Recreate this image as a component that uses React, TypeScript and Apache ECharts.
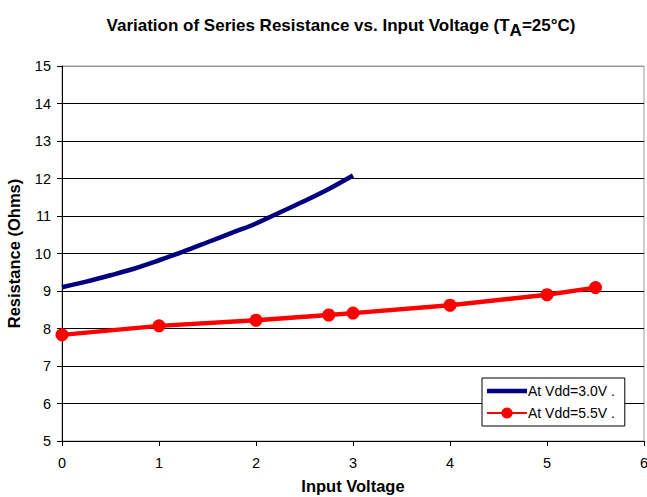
import React, { useEffect, useRef } from "react";
import * as echarts from "echarts";

const vdd30X = [0, 0.25, 0.5, 0.75, 1, 1.25, 1.5, 1.75, 2, 2.25, 2.5, 2.75, 3];
const vdd30Y = [9.1, 9.25, 9.42, 9.6, 9.82, 10.05, 10.3, 10.55, 10.8, 11.1, 11.4, 11.72, 12.08];
const vdd55X = [0, 1, 2, 2.75, 3, 4, 5, 5.5];
const vdd55Y = [7.83, 8.07, 8.22, 8.36, 8.41, 8.62, 8.9, 9.09];
const seriesNames = ["At Vdd=3.0V .", "At Vdd=5.5V ."];

const FONT = "'Liberation Sans', Arial, sans-serif";

export default function App() {
  const ref = useRef<HTMLDivElement>(null);
  useEffect(() => {
    if (!ref.current) return;
    const chart = echarts.init(ref.current, null, { renderer: "svg" });
    const splitColors = ["#000", "#000", "#000", "#000", "#000", "#000", "#000", "#000", "#000", "#000", "#999"];
    chart.setOption({
      animation: false,
      backgroundColor: "#fff",
      textStyle: { fontFamily: FONT },
      title: {
        text: "Variation of Series Resistance vs. Input Voltage (T{sub|A}=25°C)",
        left: 336,
        textAlign: "center",
        top: 6,
        textStyle: {
          fontFamily: FONT,
          fontSize: 17,
          fontWeight: "bold",
          color: "#000",
          rich: {
            sub: {
              fontFamily: FONT,
              fontSize: 17,
              fontWeight: "bold",
              color: "#000",
              padding: [11, 0, 0, 0],
            },
          },
        },
      },
      grid: {
        left: 62,
        right: 3,
        top: 66,
        bottom: 56,
        show: true,
        borderColor: "#999",
        borderWidth: 1,
        containLabel: false,
        outerBoundsMode: "none",
      },
      legend: {
        left: 482,
        top: 378,
        orient: "vertical",
        backgroundColor: "#fff",
        borderColor: "#000",
        borderWidth: 1,
        padding: [6, 10, 6, 4],
        itemGap: 8,
        itemWidth: 40,
        itemHeight: 14,
        textStyle: { fontFamily: FONT, fontSize: 14, color: "#000", padding: [0, 0, 0, -4] },
        data: [
          { name: seriesNames[0], icon: "path://M0,0 L40,0 L40,4.5 L0,4.5 Z" },
          { name: seriesNames[1] },
        ],
      },
      xAxis: {
        type: "value",
        min: 0,
        max: 6,
        interval: 1,
        name: "Input Voltage",
        nameLocation: "middle",
        nameGap: 36,
        nameTextStyle: { fontFamily: FONT, fontSize: 16.5, fontWeight: "bold", color: "#000" },
        axisLine: { show: true, lineStyle: { color: "#000", width: 1 } },
        axisTick: { show: true, length: 5, lineStyle: { color: "#000" } },
        axisLabel: { fontFamily: FONT, fontSize: 14.5, color: "#000", margin: 14 },
        splitLine: { show: false },
      },
      yAxis: {
        type: "value",
        min: 5,
        max: 15,
        interval: 1,
        name: "Resistance (Ohms)",
        nameLocation: "middle",
        nameGap: 40,
        nameTextStyle: { fontFamily: FONT, fontSize: 16.5, fontWeight: "bold", color: "#000" },
        axisLine: { show: true, lineStyle: { color: "#000", width: 1 } },
        axisTick: { show: true, length: 5, lineStyle: { color: "#000" } },
        axisLabel: { fontFamily: FONT, fontSize: 14.5, color: "#000", margin: 11 },
        splitLine: { show: true, lineStyle: { color: splitColors, width: 1 } },
      },
      series: [
        {
          name: seriesNames[0],
          type: "line",
          data: vdd30X.map((x, i) => [x, vdd30Y[i]]),
          symbol: "none",
          smooth: 0.3,
          lineStyle: { color: "#000080", width: 4.5 },
          itemStyle: { color: "#000080" },
          z: 3,
        },
        {
          name: seriesNames[1],
          type: "line",
          data: vdd55X.map((x, i) => [x, vdd55Y[i]]),
          symbol: "circle",
          symbolSize: 13,
          lineStyle: { color: "#ff0000", width: 4.5 },
          itemStyle: { color: "#ff0000" },
          z: 3,
        },
      ],
    });
    return () => chart.dispose();
  }, []);
  return <div ref={ref} style={{ width: 647, height: 497, position: "absolute", left: 0, top: 0 }} />;
}
